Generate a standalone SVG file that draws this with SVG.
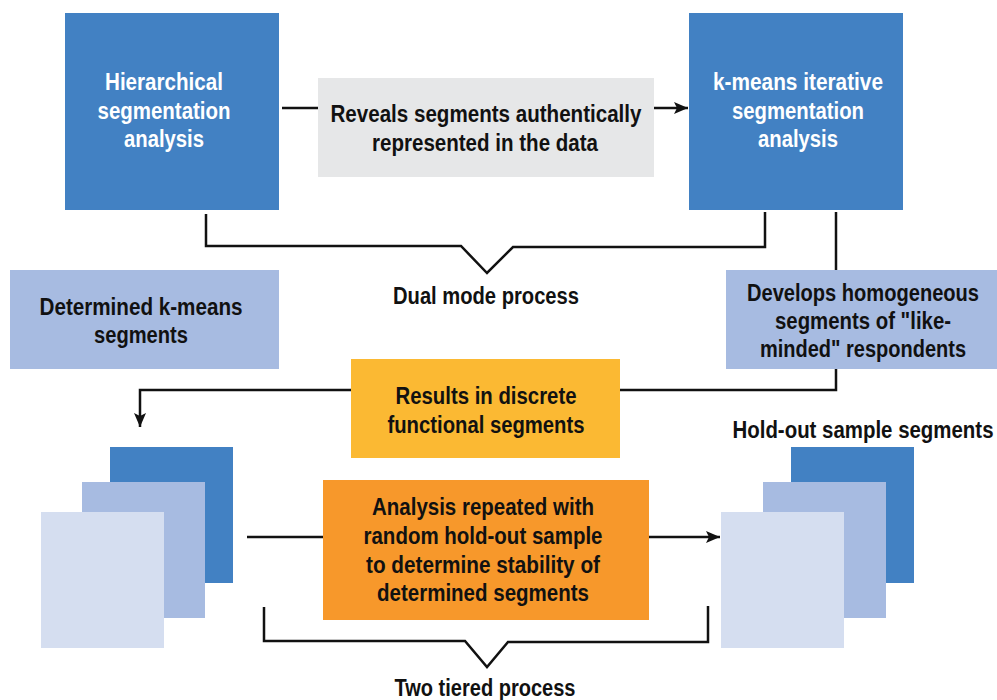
<svg xmlns="http://www.w3.org/2000/svg" width="997" height="700" viewBox="0 0 997 700">
<style>
.t{font-family:"Liberation Sans",Arial,sans-serif;font-weight:bold;font-size:23px;text-anchor:middle;fill:#111}
.w{fill:#fff}
.c{fill:none;stroke:#111;stroke-width:2.5}
.dk{fill:#4281C3}.md{fill:#A7BBE1}.lt{fill:#D5DEF0}
</style>
<defs>
<marker id="ah" viewBox="0 0 14 12" refX="14" refY="6" markerWidth="14" markerHeight="12" markerUnits="userSpaceOnUse" orient="auto">
<path d="M0,0 L14,6 L0,12 L3,6 Z" fill="#111"/>
</marker>
</defs>
<rect width="997" height="700" fill="#fff"/>
<g id="connectors">
<line class="c" x1="282" y1="108" x2="318" y2="108"/>
<line class="c" x1="654" y1="108" x2="688" y2="108" marker-end="url(#ah)"/>
<polyline class="c" points="206,214 206,246 461,246 487,273 513,247 765,247 765,212"/>
<line class="c" x1="836" y1="212" x2="836" y2="270"/>
<polyline class="c" points="836,369 836,390 620,390"/>
<polyline class="c" points="351,390 140,390 140,427" marker-end="url(#ah)"/>
<line class="c" x1="247" y1="537" x2="323" y2="537"/>
<line class="c" x1="649" y1="537" x2="720" y2="537" marker-end="url(#ah)"/>
<polyline class="c" points="264,607 264,641 465,641 487,667 508,642 708,642 708,606"/>
</g>
<g id="hierarchical">
<rect class="dk" x="65" y="13" width="214" height="197"/>
<text class="t w" x="164" y="90" textLength="118" lengthAdjust="spacingAndGlyphs">Hierarchical</text>
<text class="t w" x="164" y="119" textLength="133" lengthAdjust="spacingAndGlyphs">segmentation</text>
<text class="t w" x="164" y="147" textLength="80" lengthAdjust="spacingAndGlyphs">analysis</text>
</g>
<g id="reveals">
<rect x="318" y="78" width="336" height="99" fill="#E6E7E8"/>
<text class="t" x="486" y="122" textLength="311" lengthAdjust="spacingAndGlyphs">Reveals segments authentically</text>
<text class="t" x="485" y="151" textLength="226" lengthAdjust="spacingAndGlyphs">represented in the data</text>
</g>
<g id="kmeans">
<rect class="dk" x="689" y="13" width="214" height="197"/>
<text class="t w" x="798" y="90" textLength="170" lengthAdjust="spacingAndGlyphs">k-means iterative</text>
<text class="t w" x="798" y="119" textLength="132" lengthAdjust="spacingAndGlyphs">segmentation</text>
<text class="t w" x="798" y="147" textLength="80" lengthAdjust="spacingAndGlyphs">analysis</text>
</g>
<g id="dual">
<text class="t" x="486" y="304" textLength="186" lengthAdjust="spacingAndGlyphs">Dual mode process</text>
</g>
<g id="determined">
<rect class="md" x="10" y="270" width="269" height="99"/>
<text class="t" x="141" y="315" textLength="203" lengthAdjust="spacingAndGlyphs">Determined k-means</text>
<text class="t" x="141" y="343" textLength="94" lengthAdjust="spacingAndGlyphs">segments</text>
</g>
<g id="develops">
<rect class="md" x="726" y="270" width="271" height="99"/>
<text class="t" x="863" y="301" textLength="232" lengthAdjust="spacingAndGlyphs">Develops homogeneous</text>
<text class="t" x="863" y="329" textLength="176" lengthAdjust="spacingAndGlyphs">segments of "like-</text>
<text class="t" x="863" y="357" textLength="206" lengthAdjust="spacingAndGlyphs">minded" respondents</text>
</g>
<g id="results">
<rect x="351" y="359" width="269" height="99" fill="#FBB933"/>
<text class="t" x="486" y="404" textLength="181" lengthAdjust="spacingAndGlyphs">Results in discrete</text>
<text class="t" x="486" y="433" textLength="197" lengthAdjust="spacingAndGlyphs">functional segments</text>
</g>
<g id="left-stack">
<rect class="dk" x="110" y="447" width="123" height="136"/>
<rect class="md" x="82" y="482" width="123" height="136"/>
<rect class="lt" x="41" y="512" width="123" height="136"/>
</g>
<g id="analysis">
<rect x="323" y="480" width="326" height="140" fill="#F7982B"/>
<text class="t" x="483" y="515" textLength="222" lengthAdjust="spacingAndGlyphs">Analysis repeated with</text>
<text class="t" x="483" y="544" textLength="239" lengthAdjust="spacingAndGlyphs">random hold-out sample</text>
<text class="t" x="483" y="573" textLength="234" lengthAdjust="spacingAndGlyphs">to determine stability of</text>
<text class="t" x="483" y="601" textLength="212" lengthAdjust="spacingAndGlyphs">determined segments</text>
</g>
<g id="holdout">
<text class="t" x="863" y="438" textLength="261" lengthAdjust="spacingAndGlyphs">Hold-out sample segments</text>
<rect class="dk" x="791" y="447" width="123" height="136"/>
<rect class="md" x="763" y="482" width="123" height="136"/>
<rect class="lt" x="721" y="512" width="123" height="136"/>
</g>
<g id="twotiered">
<text class="t" x="485" y="696" textLength="181" lengthAdjust="spacingAndGlyphs">Two tiered process</text>
</g>
</svg>
